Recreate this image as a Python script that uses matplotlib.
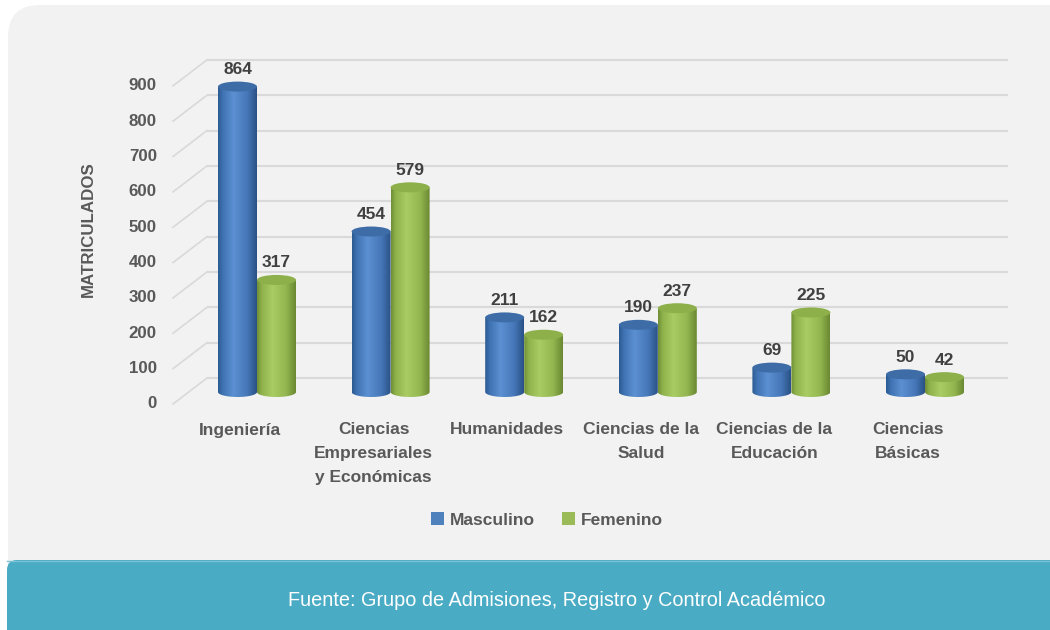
import numpy as np
import matplotlib
matplotlib.use("Agg")
import matplotlib.pyplot as plt
from matplotlib.patches import Polygon, Ellipse, FancyBboxPatch, Patch
from matplotlib.colors import LinearSegmentedColormap
from matplotlib.lines import Line2D
from matplotlib.transforms import offset_copy, blended_transform_factory, IdentityTransform

# ---------------- data ----------------
categories = ["Ingeniería", "Ciencias\nEmpresariales\ny Económicas", "Humanidades",
              "Ciencias de la\nSalud", "Ciencias de la\nEducación", "Ciencias\nBásicas"]
masculino = [864, 454, 211, 190, 69, 50]
femenino = [317, 579, 162, 237, 225, 42]
series_names = ["Masculino", "Femenino"]
yticks = list(range(0, 1000, 100))
ylabel = "MATRICULADOS"
source = "Fuente: Grupo de Admisiones, Registro y Control Académico"

# ---------------- fonts ----------------
plt.rcParams['font.family'] = ['Liberation Sans', 'DejaVu Sans']
FS = 12.5
FS_TICK = 12.2

W, H, DPI = 1050, 630, 100
fig = plt.figure(figsize=(W / DPI, H / DPI), dpi=DPI)
fig.patch.set_facecolor('white')

# background decoration axes (pixel coordinates)
bg = fig.add_axes([0, 0, 1, 1], zorder=-10)
bg.set_xlim(0, W)
bg.set_ylim(H, 0)
bg.axis('off')
bg.add_patch(FancyBboxPatch((8, 5), W + 60, 600, boxstyle="round,pad=0,rounding_size=32",
                            facecolor='#f2f2f2', edgecolor='none'))
bg.add_patch(FancyBboxPatch((7, 560), W + 60, 120, boxstyle="round,pad=0,rounding_size=10",
                            facecolor='#4aabc5', edgecolor='none'))
bg.plot([7, W], [560.5, 560.5], color='#7cc3d6', lw=1)
bg.text(557, 601, source, color='white', fontsize=14.3, ha='center', va='center')

# main axes
L_PX, R_PX, T_PX, B_PX = 173, 1008, 50, 404
ax = fig.add_axes([L_PX / W, 1 - B_PX / H, (R_PX - L_PX) / W, (B_PX - T_PX) / H])
ax.axis('off')

BAR_BASE_PX = 392.0
PX_PER_UNIT = 0.3535
GROUP0_PX = 257.0
GROUP_STEP_PX = 133.6
ylim = ((BAR_BASE_PX - B_PX) / PX_PER_UNIT, (BAR_BASE_PX - T_PX) / PX_PER_UNIT)
xlim = ((L_PX - GROUP0_PX) / GROUP_STEP_PX, (R_PX - GROUP0_PX) / GROUP_STEP_PX)
ax.set_xlim(*xlim)
ax.set_ylim(*ylim)

BACK_DY = 14      # px up for back wall
FRONT_DY = -12    # px down for front edge
DEPTH_FRAC = 34 / (R_PX - L_PX)

blend = blended_transform_factory(ax.transAxes, ax.transData)
t_back = offset_copy(blend, fig, x=0, y=BACK_DY, units='dots')
t_front = offset_copy(blend, fig, x=0, y=FRONT_DY, units='dots')

grid_c = '#d9d9d9'
for v in yticks:
    ax.plot([DEPTH_FRAC, 1], [v, v], transform=t_back, color=grid_c, lw=1.5, zorder=1,
            solid_capstyle='butt')
    p0 = t_front.transform((0, v))
    p1 = t_back.transform((DEPTH_FRAC, v))
    fig.add_artist(Line2D([p0[0], p1[0]], [p0[1], p1[1]], transform=IdentityTransform(),
                          color=grid_c, lw=1.2, zorder=1))
    ax.text(-16 / (R_PX - L_PX), v, str(v), transform=t_front, ha='right', va='center',
            fontsize=FS_TICK, fontweight='bold', color='#595959')

fig.text(88 / W, 1 - 229 / H, ylabel, rotation=90, ha='center', va='center',
         fontsize=FS_TICK, fontweight='bold', color='#595959')

blue_cmap = LinearSegmentedColormap.from_list('b', [(0, '#2c5a90'), (0.12, '#3f72b2'),
                                                     (0.4, '#5b90d2'), (0.75, '#4677b8'),
                                                     (1, '#2a5186')])
green_cmap = LinearSegmentedColormap.from_list('g', [(0, '#6e8d35'), (0.12, '#8fb24c'),
                                                      (0.4, '#a9cc64'), (0.75, '#93b650'),
                                                      (1, '#6a8832')])
blue_top = '#3d6ca6'
green_top = '#8db04a'

bar_w = 39 / GROUP_STEP_PX
ell_b = 5.0 / PX_PER_UNIT


def cylinder(xc, v, cmap, topc, z):
    a = bar_w / 2
    t = np.linspace(np.pi, 2 * np.pi, 60)
    xs = np.concatenate([[xc - a], xc + a * np.cos(t), [xc + a]])
    ys = np.concatenate([[v], ell_b * np.sin(t), [v]])
    poly = Polygon(np.column_stack([xs, ys]), closed=True, facecolor='none', edgecolor='none')
    ax.add_patch(poly)
    grad = np.linspace(0, 1, 256).reshape(1, -1)
    im = ax.imshow(grad, cmap=cmap, extent=[xc - a, xc + a, -ell_b, v], aspect='auto',
                   origin='lower', zorder=z, interpolation='bilinear')
    im.set_clip_path(poly)
    ax.add_patch(Ellipse((xc, v), 2 * a, 2 * ell_b, facecolor=topc, edgecolor='none',
                         zorder=z + 0.1))


x = np.arange(len(categories))
for i in range(len(categories)):
    xb = x[i] - bar_w / 2
    xg = x[i] + bar_w / 2
    cylinder(xb, masculino[i], blue_cmap, blue_top, 3)
    cylinder(xg, femenino[i], green_cmap, green_top, 4)
    for xc, v in ((xb, masculino[i]), (xg, femenino[i])):
        ax.annotate(str(v), (xc, v), xytext=(0, 12.5 * 72 / DPI), textcoords='offset points',
                    ha='center', va='baseline', fontsize=FS, fontweight='bold',
                    color='#404040', zorder=6)

ax.set_xlim(*xlim)
ax.set_ylim(*ylim)

# category labels (front plane)
t_cat = offset_copy(ax.transData, fig, x=-17, y=0, units='dots')
t_cat_b = blended_transform_factory(t_cat, fig.transFigure)
for i, c in enumerate(categories):
    ax.text(x[i], 1 - 422.5 / H, c, transform=t_cat_b, ha='center', va='top',
            fontsize=FS, fontweight='bold', color='#595959', linespacing=1.72,
            multialignment='center')

handles = [Patch(facecolor='#4f81bd', edgecolor='none'), Patch(facecolor='#9bbb59', edgecolor='none')]
leg = fig.legend(handles, series_names, loc='center', bbox_to_anchor=(547 / W, 1 - 520 / H),
                 ncol=2, frameon=False, handlelength=0.75, handleheight=0.75,
                 handletextpad=0.3, columnspacing=1.6,
                 prop={'weight': 'bold', 'size': FS})
for txt in leg.get_texts():
    txt.set_color('#595959')

fig.savefig('out.png', dpi=DPI, facecolor=fig.get_facecolor())
